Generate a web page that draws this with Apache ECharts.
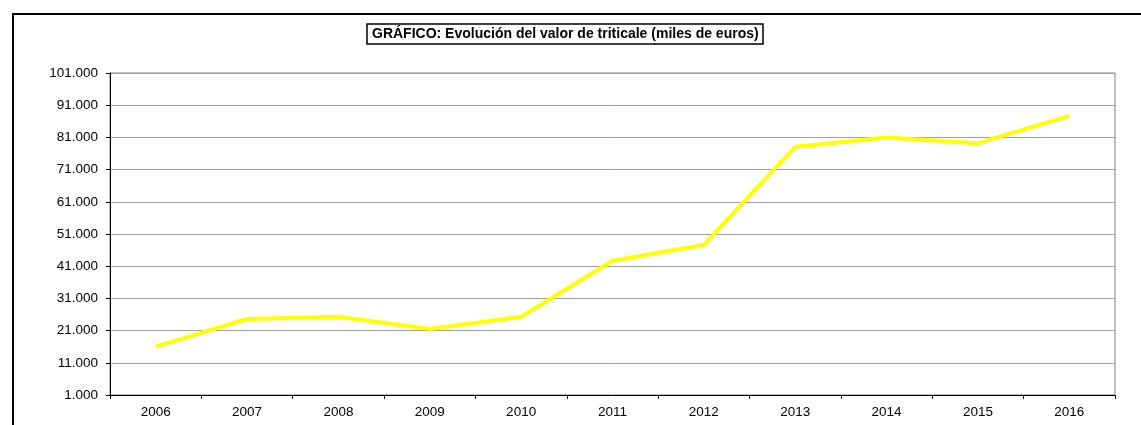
<!DOCTYPE html>
<html>
<head>
<meta charset="utf-8">
<script src="https://cdn.jsdelivr.net/npm/echarts@6/dist/echarts.min.js"></script>
<style>
  html, body { margin: 0; padding: 0; background: #fff; }
  #main { width: 1141px; height: 425px; }
</style>
</head>
<body>
<div id="main"></div>
<script>
// data (miles de euros)
let years = ["2006", "2007", "2008", "2009", "2010", "2011", "2012", "2013", "2014", "2015", "2016"]
let valores = [16000, 24600, 25300, 21500, 25300, 42700, 47600, 78100, 81000, 79200, 87700]

let yMin = 1000
let yMax = 101000
let yStep = 10000

// spanish thousands separator
function fmt(v) {
    return String(v).replace(/\B(?=(\d{3})+(?!\d))/g, ".")
}

var myChart = echarts.init(document.getElementById('main'))

var option = {
    animation: false,
    backgroundColor: '#fff',
    textStyle: { fontFamily: 'Liberation Sans, Arial, sans-serif' },
    graphic: [
        {
            // outer chart frame
            type: 'rect',
            shape: { x: 13, y: 14, width: 1200, height: 500 },
            style: { fill: 'none', stroke: '#000', lineWidth: 2 },
            z: -1
        }
    ],
    title: {
        text: 'GRÁFICO: Evolución del valor de triticale (miles de euros)',
        left: 367,
        top: 24,
        padding: [3, 5, 3, 5],
        borderColor: '#000',
        borderWidth: 1.5,
        textStyle: {
            fontSize: 14,
            fontWeight: 'bold',
            color: '#000',
            fontFamily: 'Liberation Sans, Arial, sans-serif'
        }
    },
    grid: {
        left: 110,
        right: 26,
        top: 73,
        bottom: 30,
        show: true,
        borderColor: '#808080',
        borderWidth: 1
    },
    xAxis: {
        type: 'category',
        data: years,
        boundaryGap: true,
        axisLine: { lineStyle: { color: '#000', width: 1 } },
        axisTick: { show: true, length: 4, inside: false, lineStyle: { color: '#000' } },
        axisLabel: { color: '#000', fontSize: 13.5, margin: 10 }
    },
    yAxis: {
        type: 'value',
        min: yMin,
        max: yMax,
        interval: yStep,
        axisLine: { show: true, lineStyle: { color: '#000', width: 1 } },
        axisTick: { show: true, length: 4, lineStyle: { color: '#000' } },
        axisLabel: { color: '#000', fontSize: 13.5, margin: 12, formatter: fmt },
        splitLine: { show: true, lineStyle: { color: '#a0a0a0', width: 1 } }
    },
    series: [
        {
            name: 'Triticale',
            type: 'line',
            data: valores,
            symbol: 'none',
            lineStyle: { color: '#ffff00', width: 4 },
            itemStyle: { color: '#ffff00' }
        }
    ]
}

myChart.setOption(option)
</script>
</body>
</html>
